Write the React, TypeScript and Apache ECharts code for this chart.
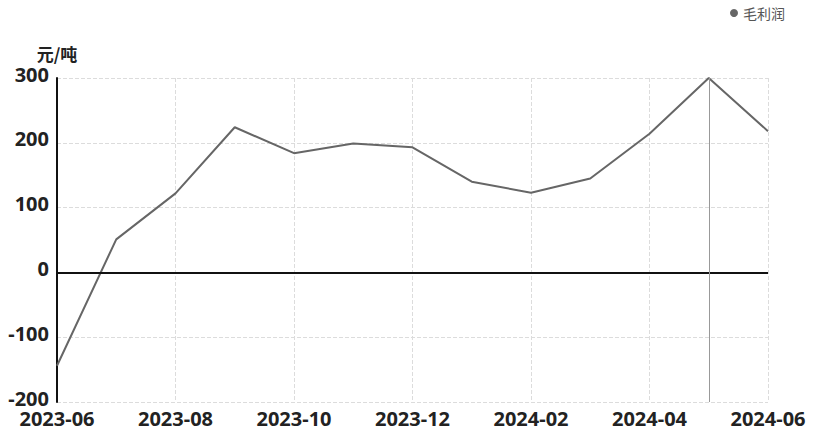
import React, { useEffect, useRef } from "react";
import * as echarts from "echarts";

const categories = [
  "2023-06", "2023-07", "2023-08", "2023-09", "2023-10", "2023-11", "2023-12",
  "2024-01", "2024-02", "2024-03", "2024-04", "2024-05", "2024-06",
];
const grossProfit = [-144, 51, 122, 224, 184, 199, 193, 140, 123, 145, 214, 300, 218];
const seriesName = "毛利润";
const unitName = "元/吨";
const markedMonth = "2024-05";

export default function App() {
  const ref = useRef<HTMLDivElement>(null);
  useEffect(() => {
    if (!ref.current) return;
    const chart = echarts.init(ref.current, undefined, { renderer: "svg" });
    chart.setOption({
      animation: false,
      legend: {
        data: [{ name: seriesName, icon: "circle" }],
        right: 50,
        top: 1,
        itemWidth: 8,
        itemHeight: 8,
        itemGap: 4,
        textStyle: { fontSize: 14, color: "#555", fontFamily: "Noto Sans CJK SC" },
      },
      grid: { left: 57, right: 72, top: 78, bottom: 30, containLabel: false },
      xAxis: {
        type: "category",
        data: categories,
        boundaryGap: false,
        axisLine: { show: false },
        axisTick: { show: false },
        axisLabel: {
          interval: 1,
          fontSize: 20,
          fontWeight: "bold",
          color: "#222",
          margin: 6,
          lineHeight: 20,
          fontFamily: "Noto Sans",
        },
        splitLine: {
          show: true,
          interval: 1,
          lineStyle: { type: "dashed", color: "#dcdcdc" },
        },
      },
      yAxis: {
        type: "value",
        min: -200,
        max: 300,
        interval: 100,
        name: unitName,
        nameLocation: "end",
        nameGap: 16,
        nameTextStyle: {
          fontSize: 17,
          fontWeight: "bold",
          color: "#222",
          align: "center",
          fontFamily: "Noto Sans CJK SC",
        },
        axisLine: { show: true, lineStyle: { color: "#111", width: 2 } },
        axisTick: { show: false },
        axisLabel: {
          margin: 8,
          formatter: "{v|{value}}",
          rich: {
            v: {
              fontSize: 20,
              fontWeight: "bold",
              color: "#222",
              lineHeight: 20,
              padding: [0, 0, 8, 0],
              fontFamily: "Noto Sans",
            },
          },
        },
        splitLine: { show: true, lineStyle: { type: "dashed", color: "#dcdcdc" } },
      },
      series: [
        {
          name: seriesName,
          type: "line",
          data: grossProfit,
          showSymbol: false,
          symbol: "circle",
          itemStyle: { color: "#666" },
          lineStyle: { color: "#666", width: 2 },
          markLine: {
            silent: true,
            symbol: ["none", "none"],
            label: { show: false },
            data: [
              { yAxis: 0, lineStyle: { color: "#111", width: 2, type: "solid" } },
              { xAxis: markedMonth, lineStyle: { color: "#999", width: 1, type: "solid" } },
            ],
          },
        },
      ],
    });
    return () => chart.dispose();
  }, []);
  return <div ref={ref} style={{ width: 840, height: 432, position: "absolute", left: 0, top: 0 }} />;
}
